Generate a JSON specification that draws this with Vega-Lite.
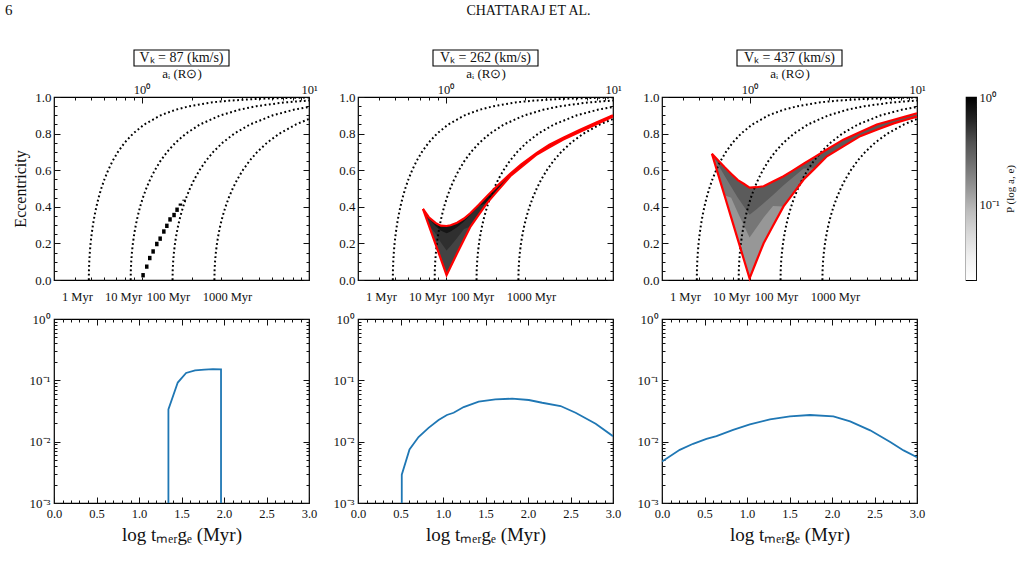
{
  "$schema": "https://vega.github.io/schema/vega-lite/v6.json",
  "background": "white",
  "padding": {"left": 5, "top": 2, "right": 4, "bottom": 4},
  "config": {
    "font": "Liberation Serif",
    "view": {"stroke": "#000", "strokeWidth": 1.2},
    "axis": {"domain": false, "grid": false, "labelFont": "Liberation Serif", "labelColor": "#111", "tickColor": "#111", "tickWidth": 1, "titleFont": "Liberation Serif", "titleFontWeight": "normal", "titleColor": "#111", "labelOverlap": false, "labelFlush": false, "labelBound": false},
    "title": {"font": "Liberation Serif", "fontWeight": "normal", "color": "#111"},
    "text": {"font": "Liberation Serif", "color": "#111"}
  },
  "datasets": {
    "contours": [
      {"t":"1 Myr","log_a":-0.315,"e":0},{"t":"1 Myr","log_a":-0.3144,"e":0.05},{"t":"1 Myr","log_a":-0.3124,"e":0.1},{"t":"1 Myr","log_a":-0.3091,"e":0.15},{"t":"1 Myr","log_a":-0.3045,"e":0.2},{"t":"1 Myr","log_a":-0.2983,"e":0.25},{"t":"1 Myr","log_a":-0.2906,"e":0.3},{"t":"1 Myr","log_a":-0.2812,"e":0.35},{"t":"1 Myr","log_a":-0.2699,"e":0.4},{"t":"1 Myr","log_a":-0.2566,"e":0.45},{"t":"1 Myr","log_a":-0.2407,"e":0.5},{"t":"1 Myr","log_a":-0.2219,"e":0.55},{"t":"1 Myr","log_a":-0.1997,"e":0.6},{"t":"1 Myr","log_a":-0.1731,"e":0.65},{"t":"1 Myr","log_a":-0.141,"e":0.7},{"t":"1 Myr","log_a":-0.1014,"e":0.75},{"t":"1 Myr","log_a":-0.051,"e":0.8},{"t":"1 Myr","log_a":0.0163,"e":0.85},{"t":"1 Myr","log_a":0.1141,"e":0.9},{"t":"1 Myr","log_a":0.2022,"e":0.93},{"t":"1 Myr","log_a":0.2866,"e":0.95},{"t":"1 Myr","log_a":0.4159,"e":0.97},{"t":"1 Myr","log_a":0.5194,"e":0.98},{"t":"1 Myr","log_a":0.6972,"e":0.99},{"t":"1 Myr","log_a":0.8757,"e":0.995},{"t":"1 Myr","log_a":1,"e":0.997},
      {"t":"10 Myr","log_a":-0.065,"e":0},{"t":"10 Myr","log_a":-0.0642,"e":0.05},{"t":"10 Myr","log_a":-0.0618,"e":0.1},{"t":"10 Myr","log_a":-0.0577,"e":0.15},{"t":"10 Myr","log_a":-0.0518,"e":0.2},{"t":"10 Myr","log_a":-0.0442,"e":0.25},{"t":"10 Myr","log_a":-0.0345,"e":0.3},{"t":"10 Myr","log_a":-0.0228,"e":0.35},{"t":"10 Myr","log_a":-0.0087,"e":0.4},{"t":"10 Myr","log_a":0.0081,"e":0.45},{"t":"10 Myr","log_a":0.0279,"e":0.5},{"t":"10 Myr","log_a":0.0514,"e":0.55},{"t":"10 Myr","log_a":0.0792,"e":0.6},{"t":"10 Myr","log_a":0.1123,"e":0.65},{"t":"10 Myr","log_a":0.1525,"e":0.7},{"t":"10 Myr","log_a":0.202,"e":0.75},{"t":"10 Myr","log_a":0.265,"e":0.8},{"t":"10 Myr","log_a":0.3491,"e":0.85},{"t":"10 Myr","log_a":0.4714,"e":0.9},{"t":"10 Myr","log_a":0.5816,"e":0.93},{"t":"10 Myr","log_a":0.6869,"e":0.95},{"t":"10 Myr","log_a":0.8486,"e":0.97},{"t":"10 Myr","log_a":1,"e":0.981},
      {"t":"100 Myr","log_a":0.185,"e":0},{"t":"100 Myr","log_a":0.1859,"e":0.05},{"t":"100 Myr","log_a":0.1886,"e":0.1},{"t":"100 Myr","log_a":0.1932,"e":0.15},{"t":"100 Myr","log_a":0.1997,"e":0.2},{"t":"100 Myr","log_a":0.2083,"e":0.25},{"t":"100 Myr","log_a":0.2191,"e":0.3},{"t":"100 Myr","log_a":0.2322,"e":0.35},{"t":"100 Myr","log_a":0.248,"e":0.4},{"t":"100 Myr","log_a":0.2667,"e":0.45},{"t":"100 Myr","log_a":0.2889,"e":0.5},{"t":"100 Myr","log_a":0.3151,"e":0.55},{"t":"100 Myr","log_a":0.3461,"e":0.6},{"t":"100 Myr","log_a":0.3832,"e":0.65},{"t":"100 Myr","log_a":0.4281,"e":0.7},{"t":"100 Myr","log_a":0.4834,"e":0.75},{"t":"100 Myr","log_a":0.5538,"e":0.8},{"t":"100 Myr","log_a":0.6478,"e":0.85},{"t":"100 Myr","log_a":0.7845,"e":0.9},{"t":"100 Myr","log_a":0.9077,"e":0.93},{"t":"100 Myr","log_a":1,"e":0.946},
      {"t":"1000 Myr","log_a":0.435,"e":0},{"t":"1000 Myr","log_a":0.436,"e":0.05},{"t":"1000 Myr","log_a":0.4388,"e":0.1},{"t":"1000 Myr","log_a":0.4436,"e":0.15},{"t":"1000 Myr","log_a":0.4505,"e":0.2},{"t":"1000 Myr","log_a":0.4595,"e":0.25},{"t":"1000 Myr","log_a":0.4708,"e":0.3},{"t":"1000 Myr","log_a":0.4847,"e":0.35},{"t":"1000 Myr","log_a":0.5013,"e":0.4},{"t":"1000 Myr","log_a":0.521,"e":0.45},{"t":"1000 Myr","log_a":0.5443,"e":0.5},{"t":"1000 Myr","log_a":0.5719,"e":0.55},{"t":"1000 Myr","log_a":0.6046,"e":0.6},{"t":"1000 Myr","log_a":0.6436,"e":0.65},{"t":"1000 Myr","log_a":0.6909,"e":0.7},{"t":"1000 Myr","log_a":0.7491,"e":0.75},{"t":"1000 Myr","log_a":0.8232,"e":0.8},{"t":"1000 Myr","log_a":0.9221,"e":0.85},{"t":"1000 Myr","log_a":1,"e":0.88}
    ],
    "cells_87": [
      {"a_lo":-0.0015,"a_hi":0.0195,"e_lo":0.014,"e_hi":0.038,"p":1},
      {"a_lo":0.0205,"a_hi":0.0415,"e_lo":0.061,"e_hi":0.085,"p":1},
      {"a_lo":0.0385,"a_hi":0.0595,"e_lo":0.108,"e_hi":0.132,"p":1},
      {"a_lo":0.0585,"a_hi":0.0795,"e_lo":0.144,"e_hi":0.168,"p":1},
      {"a_lo":0.0805,"a_hi":0.1015,"e_lo":0.185,"e_hi":0.209,"p":1},
      {"a_lo":0.1005,"a_hi":0.1215,"e_lo":0.214,"e_hi":0.238,"p":1},
      {"a_lo":0.1225,"a_hi":0.1435,"e_lo":0.253,"e_hi":0.277,"p":1},
      {"a_lo":0.1405,"a_hi":0.1615,"e_lo":0.284,"e_hi":0.308,"p":1},
      {"a_lo":0.1595,"a_hi":0.1805,"e_lo":0.319,"e_hi":0.343,"p":1},
      {"a_lo":0.1835,"a_hi":0.2045,"e_lo":0.343,"e_hi":0.367,"p":1},
      {"a_lo":0.2015,"a_hi":0.2225,"e_lo":0.372,"e_hi":0.396,"p":1},
      {"a_lo":0.2215,"a_hi":0.2425,"e_lo":0.406,"e_hi":0.418,"p":1},
      {"a_lo":0.2435,"a_hi":0.2645,"e_lo":0.433,"e_hi":0.439,"p":1}
    ],
    "p262_a": [
      {"log_a":-0.135,"e_lo":0.389,"e_hi":0.389,"p":0.8},{"log_a":-0.1,"e_lo":0.299,"e_hi":0.343,"p":0.8},{"log_a":-0.06,"e_lo":0.196,"e_hi":0.312,"p":0.8},{"log_a":-0.03,"e_lo":0.119,"e_hi":0.297,"p":0.8},{"log_a":0.006,"e_lo":0.027,"e_hi":0.295,"p":0.8},{"log_a":0.03,"e_lo":0.072,"e_hi":0.299,"p":0.8},{"log_a":0.069,"e_lo":0.146,"e_hi":0.313,"p":0.8},{"log_a":0.11,"e_lo":0.221,"e_hi":0.336,"p":0.8},{"log_a":0.149,"e_lo":0.292,"e_hi":0.366,"p":0.8},{"log_a":0.2,"e_lo":0.358,"e_hi":0.413,"p":0.8},{"log_a":0.25,"e_lo":0.423,"e_hi":0.46,"p":0.8},{"log_a":0.3,"e_lo":0.476,"e_hi":0.506,"p":0.8},{"log_a":0.386,"e_lo":0.567,"e_hi":0.58,"p":0.8},{"log_a":0.45,"e_lo":0.615,"e_hi":0.631,"p":0.8},{"log_a":0.545,"e_lo":0.686,"e_hi":0.694,"p":0.8},{"log_a":0.62,"e_lo":0.725,"e_hi":0.739,"p":0.8},{"log_a":0.703,"e_lo":0.768,"e_hi":0.777,"p":0.8},{"log_a":0.8,"e_lo":0.809,"e_hi":0.82,"p":0.8},{"log_a":0.9,"e_lo":0.851,"e_hi":0.86,"p":0.8},{"log_a":1,"e_lo":0.893,"e_hi":0.9,"p":0.8}
    ],
    "p262_b": [
      {"log_a":-0.135,"e_lo":0.389,"e_hi":0.389,"p":0.55},{"log_a":-0.1,"e_lo":0.299,"e_hi":0.336,"p":0.55},{"log_a":-0.06,"e_lo":0.196,"e_hi":0.295,"p":0.55},{"log_a":-0.03,"e_lo":0.119,"e_hi":0.27,"p":0.55},{"log_a":0.006,"e_lo":0.027,"e_hi":0.255,"p":0.55},{"log_a":0.03,"e_lo":0.072,"e_hi":0.265,"p":0.55},{"log_a":0.069,"e_lo":0.146,"e_hi":0.288,"p":0.55},{"log_a":0.11,"e_lo":0.221,"e_hi":0.319,"p":0.55},{"log_a":0.149,"e_lo":0.292,"e_hi":0.355,"p":0.55},{"log_a":0.2,"e_lo":0.358,"e_hi":0.405,"p":0.55},{"log_a":0.25,"e_lo":0.423,"e_hi":0.423,"p":0.55}
    ],
    "p262_c": [
      {"log_a":-0.1,"e_lo":0.299,"e_hi":0.299,"p":0.44},{"log_a":-0.06,"e_lo":0.196,"e_hi":0.254,"p":0.44},{"log_a":-0.03,"e_lo":0.119,"e_hi":0.208,"p":0.44},{"log_a":0.006,"e_lo":0.027,"e_hi":0.161,"p":0.44},{"log_a":0.03,"e_lo":0.072,"e_hi":0.186,"p":0.44},{"log_a":0.069,"e_lo":0.146,"e_hi":0.23,"p":0.44},{"log_a":0.11,"e_lo":0.221,"e_hi":0.279,"p":0.44},{"log_a":0.149,"e_lo":0.292,"e_hi":0.292,"p":0.44}
    ],
    "p437_a": [
      {"log_a":-0.225,"e_lo":0.69,"e_hi":0.69,"p":0.33},{"log_a":-0.19,"e_lo":0.584,"e_hi":0.656,"p":0.33},{"log_a":-0.15,"e_lo":0.463,"e_hi":0.617,"p":0.33},{"log_a":-0.11,"e_lo":0.342,"e_hi":0.581,"p":0.33},{"log_a":-0.07,"e_lo":0.221,"e_hi":0.546,"p":0.33},{"log_a":-0.035,"e_lo":0.115,"e_hi":0.526,"p":0.33},{"log_a":0,"e_lo":0.009,"e_hi":0.505,"p":0.33},{"log_a":0.04,"e_lo":0.101,"e_hi":0.507,"p":0.33},{"log_a":0.084,"e_lo":0.201,"e_hi":0.512,"p":0.33},{"log_a":0.14,"e_lo":0.296,"e_hi":0.538,"p":0.33},{"log_a":0.203,"e_lo":0.402,"e_hi":0.567,"p":0.33},{"log_a":0.26,"e_lo":0.472,"e_hi":0.599,"p":0.33},{"log_a":0.323,"e_lo":0.549,"e_hi":0.635,"p":0.33},{"log_a":0.39,"e_lo":0.61,"e_hi":0.673,"p":0.33},{"log_a":0.462,"e_lo":0.676,"e_hi":0.713,"p":0.33},{"log_a":0.56,"e_lo":0.73,"e_hi":0.767,"p":0.33},{"log_a":0.661,"e_lo":0.786,"e_hi":0.809,"p":0.33},{"log_a":0.76,"e_lo":0.821,"e_hi":0.85,"p":0.33},{"log_a":0.861,"e_lo":0.856,"e_hi":0.876,"p":0.33},{"log_a":0.93,"e_lo":0.874,"e_hi":0.893,"p":0.33},{"log_a":1,"e_lo":0.893,"e_hi":0.911,"p":0.33}
    ],
    "p437_b": [
      {"log_a":-0.225,"e_lo":0.69,"e_hi":0.69,"p":0.22},{"log_a":-0.19,"e_lo":0.584,"e_hi":0.634,"p":0.22},{"log_a":-0.15,"e_lo":0.463,"e_hi":0.571,"p":0.22},{"log_a":-0.11,"e_lo":0.342,"e_hi":0.509,"p":0.22},{"log_a":-0.07,"e_lo":0.221,"e_hi":0.449,"p":0.22},{"log_a":-0.035,"e_lo":0.115,"e_hi":0.403,"p":0.22},{"log_a":0,"e_lo":0.009,"e_hi":0.356,"p":0.22},{"log_a":0.04,"e_lo":0.101,"e_hi":0.385,"p":0.22},{"log_a":0.084,"e_lo":0.201,"e_hi":0.419,"p":0.22},{"log_a":0.14,"e_lo":0.296,"e_hi":0.465,"p":0.22},{"log_a":0.203,"e_lo":0.402,"e_hi":0.518,"p":0.22},{"log_a":0.26,"e_lo":0.472,"e_hi":0.561,"p":0.22},{"log_a":0.323,"e_lo":0.549,"e_hi":0.609,"p":0.22},{"log_a":0.39,"e_lo":0.61,"e_hi":0.61,"p":0.22}
    ],
    "p437_c": [
      {"log_a":-0.15,"e_lo":0.463,"e_hi":0.463,"p":0.14},{"log_a":-0.11,"e_lo":0.342,"e_hi":0.45,"p":0.14},{"log_a":-0.07,"e_lo":0.221,"e_hi":0.367,"p":0.14},{"log_a":-0.035,"e_lo":0.115,"e_hi":0.3,"p":0.14},{"log_a":0,"e_lo":0.009,"e_hi":0.232,"p":0.14},{"log_a":0.04,"e_lo":0.101,"e_hi":0.284,"p":0.14},{"log_a":0.084,"e_lo":0.201,"e_hi":0.341,"p":0.14},{"log_a":0.14,"e_lo":0.296,"e_hi":0.405,"p":0.14},{"log_a":0.203,"e_lo":0.402,"e_hi":0.402,"p":0.14}
    ],
    "dist_87": [
      {"log_t":1.346,"prob":0.00001},{"log_t":1.346,"prob":0.0336},{"log_t":1.456,"prob":0.092},{"log_t":1.554,"prob":0.132},{"log_t":1.66,"prob":0.145},{"log_t":1.77,"prob":0.149},{"log_t":1.87,"prob":0.152},{"log_t":1.965,"prob":0.151},{"log_t":1.965,"prob":0.00001}
    ],
    "dist_262": [
      {"log_t":0.515,"prob":0.00001},{"log_t":0.515,"prob":0.0029},{"log_t":0.606,"prob":0.00745},{"log_t":0.712,"prob":0.0119},{"log_t":0.83,"prob":0.0168},{"log_t":0.948,"prob":0.0225},{"log_t":1.046,"prob":0.0272},{"log_t":1.125,"prob":0.0296},{"log_t":1.243,"prob":0.0367},{"log_t":1.42,"prob":0.0449},{"log_t":1.616,"prob":0.0491},{"log_t":1.813,"prob":0.0502},{"log_t":2.01,"prob":0.0478},{"log_t":2.167,"prob":0.0431},{"log_t":2.383,"prob":0.0381},{"log_t":2.56,"prob":0.0296},{"log_t":2.796,"prob":0.0196},{"log_t":3,"prob":0.0123}
    ],
    "dist_437": [
      {"log_t":0,"prob":0.00475},{"log_t":0.209,"prob":0.00736},{"log_t":0.366,"prob":0.00923},{"log_t":0.523,"prob":0.0111},{"log_t":0.641,"prob":0.0123},{"log_t":0.837,"prob":0.0156},{"log_t":1.034,"prob":0.0191},{"log_t":1.27,"prob":0.0231},{"log_t":1.505,"prob":0.0259},{"log_t":1.741,"prob":0.0272},{"log_t":2.016,"prob":0.0259},{"log_t":2.213,"prob":0.0214},{"log_t":2.449,"prob":0.0153},{"log_t":2.685,"prob":0.00984},{"log_t":2.842,"prob":0.0072},{"log_t":3,"prob":0.00559}
    ]
  },
  "columns": 5,
  "spacing": {"row": -3, "column": 14},
  "concat": [
    {
      "width": 255, "height": 16, "view": {"stroke": null},
      "title": {"text": "6", "anchor": "start", "dx": -49, "offset": 30, "fontSize": 15},
      "data": {"values": [{}]},
      "layer": [
        {"mark": {"type": "point", "shape": "M-1,-0.168L1,-0.168L1,0.168L-1,0.168Z", "size": 9025, "filled": false, "stroke": "#000", "strokeWidth": 1.1, "opacity": 1}, "encoding": {}},
        {"mark": {"type": "text", "text": "Vₖ = 87 (km/s)", "fontSize": 14, "baseline": "middle", "align": "center"}, "encoding": {}}
      ]
    },
    {
      "width": 255, "height": 16, "view": {"stroke": null},
      "title": {"text": "CHATTARAJ ET AL.", "anchor": "middle", "dx": 43, "offset": 30, "fontSize": 14},
      "data": {"values": [{}]},
      "layer": [
        {"mark": {"type": "point", "shape": "M-1,-0.152L1,-0.152L1,0.152L-1,0.152Z", "size": 11025, "filled": false, "stroke": "#000", "strokeWidth": 1.1, "opacity": 1}, "encoding": {}},
        {"mark": {"type": "text", "text": "Vₖ = 262 (km/s)", "fontSize": 14, "baseline": "middle", "align": "center"}, "encoding": {}}
      ]
    },
    {
      "width": 255, "height": 16, "view": {"stroke": null},
      "data": {"values": [{}]},
      "layer": [
        {"mark": {"type": "point", "shape": "M-1,-0.152L1,-0.152L1,0.152L-1,0.152Z", "size": 11025, "filled": false, "stroke": "#000", "strokeWidth": 1.1, "opacity": 1}, "encoding": {}},
        {"mark": {"type": "text", "text": "Vₖ = 437 (km/s)", "fontSize": 14, "baseline": "middle", "align": "center"}, "encoding": {}}
      ]
    },
    {"width": 11, "height": 16, "view": {"stroke": null}, "data": {"values": []}, "mark": "point"},
    {"width": 10, "height": 16, "view": {"stroke": null}, "data": {"values": []}, "mark": "point"},

    {
      "width": 255, "height": 183,
      "layer": [
        {
          "data": {"name": "cells_87"},
          "mark": {"type": "rect"},
          "encoding": {
            "x": {"field": "a_lo", "type": "quantitative", "scale": {"domain": [-0.523, 1], "nice": false, "zero": false},
                  "axis": {"orient": "bottom", "title": null, "values": [-0.398,-0.301,-0.222,-0.155,-0.097,-0.046,0,0.301,0.477,0.602,0.699,0.778,0.845,0.903,0.954,1,-0.386,-0.111,0.158,0.51], "labelExpr": "datum.value==-0.386?'1 Myr':datum.value==-0.111?'10 Myr':datum.value==0.158?'100 Myr':datum.value==0.51?'1000 Myr':''", "tickSize": {"condition": {"test": "indexof([-0.386,-0.111,0.158,0.51],datum.value)>=0", "value": 0}, "value": -3}, "labelPadding": 10, "labelFontSize": 12.5}},
            "x2": {"field": "a_hi"},
            "y": {"field": "e_lo", "type": "quantitative", "scale": {"domain": [0, 1], "nice": false},
                  "axis": {"orient": "left", "title": "Eccentricity", "titleFontSize": 16, "titlePadding": 6, "values": [0,0.05,0.1,0.15,0.2,0.25,0.3,0.35,0.4,0.45,0.5,0.55,0.6,0.65,0.7,0.75,0.8,0.85,0.9,0.95,1], "labelExpr": "abs(datum.value*5-round(datum.value*5))<0.001?format(datum.value,'.1f'):''", "tickSize": {"condition": {"test": "abs(datum.value*5-round(datum.value*5))<0.001", "value": -6}, "value": -3}, "labelPadding": 9, "labelFontSize": 13}},
            "y2": {"field": "e_hi"},
            "color": {"field": "p", "type": "quantitative", "scale": {"type": "log", "domain": [0.02, 1], "range": ["#ffffff","#f0f0f0","#d9d9d9","#bdbdbd","#969696","#737373","#525252","#252525","#000000"]}, "legend": null}
          }
        },
        {
          "data": {"name": "contours"},
          "mark": {"type": "line", "color": "#000", "strokeWidth": 2, "strokeDash": [1.8, 2.6], "clip": true},
          "encoding": {
            "x": {"field": "log_a", "type": "quantitative", "scale": {"domain": [-0.523, 1], "nice": false, "zero": false},
                  "axis": {"orient": "top", "title": "aᵢ (R⊙)", "titleFontSize": 13, "titlePadding": 0, "values": [-0.398,-0.301,-0.222,-0.155,-0.097,-0.046,0,0.301,0.477,0.602,0.699,0.778,0.845,0.903,0.954,1], "labelExpr": "datum.value==0?'10⁰':datum.value==1?'10¹':''", "tickSize": {"condition": {"test": "datum.value==0||datum.value==1", "value": -6}, "value": -3}, "labelPadding": 7, "labelFontSize": 12.5}},
            "y": {"field": "e", "type": "quantitative", "scale": {"domain": [0, 1], "nice": false},
                  "axis": {"orient": "right", "title": null, "labels": false, "values": [0,0.05,0.1,0.15,0.2,0.25,0.3,0.35,0.4,0.45,0.5,0.55,0.6,0.65,0.7,0.75,0.8,0.85,0.9,0.95,1], "tickSize": {"condition": {"test": "abs(datum.value*5-round(datum.value*5))<0.001", "value": -6}, "value": -3}}},
            "detail": {"field": "t", "type": "nominal"}
          }
        }
      ],
      "resolve": {"axis": {"x": "independent", "y": "independent"}}
    },

    {
      "width": 255, "height": 183,
      "layer": [
        {
          "data": {"name": "p262_a"},
          "mark": {"type": "area"},
          "encoding": {
            "x": {"field": "log_a", "type": "quantitative", "scale": {"domain": [-0.523, 1], "nice": false, "zero": false},
                  "axis": {"orient": "bottom", "title": null, "values": [-0.398,-0.301,-0.222,-0.155,-0.097,-0.046,0,0.301,0.477,0.602,0.699,0.778,0.845,0.903,0.954,1,-0.386,-0.111,0.158,0.51], "labelExpr": "datum.value==-0.386?'1 Myr':datum.value==-0.111?'10 Myr':datum.value==0.158?'100 Myr':datum.value==0.51?'1000 Myr':''", "tickSize": {"condition": {"test": "indexof([-0.386,-0.111,0.158,0.51],datum.value)>=0", "value": 0}, "value": -3}, "labelPadding": 10, "labelFontSize": 12.5}},
            "y": {"field": "e_hi", "type": "quantitative", "stack": null, "scale": {"domain": [0, 1], "nice": false},
                  "axis": {"orient": "left", "title": null, "values": [0,0.05,0.1,0.15,0.2,0.25,0.3,0.35,0.4,0.45,0.5,0.55,0.6,0.65,0.7,0.75,0.8,0.85,0.9,0.95,1], "labelExpr": "abs(datum.value*5-round(datum.value*5))<0.001?format(datum.value,'.1f'):''", "tickSize": {"condition": {"test": "abs(datum.value*5-round(datum.value*5))<0.001", "value": -6}, "value": -3}, "labelPadding": 9, "labelFontSize": 13}},
            "y2": {"field": "e_lo"},
            "color": {"field": "p", "type": "quantitative", "scale": {"type": "log", "domain": [0.02, 1], "range": ["#ffffff","#f0f0f0","#d9d9d9","#bdbdbd","#969696","#737373","#525252","#252525","#000000"]}, "legend": null}
          }
        },
        {
          "data": {"name": "p262_b"},
          "mark": {"type": "area"},
          "encoding": {
            "x": {"field": "log_a", "type": "quantitative", "scale": {"domain": [-0.523, 1], "nice": false, "zero": false}, "axis": null},
            "y": {"field": "e_hi", "type": "quantitative", "stack": null, "scale": {"domain": [0, 1], "nice": false}, "axis": null},
            "y2": {"field": "e_lo"},
            "color": {"field": "p", "type": "quantitative", "scale": {"type": "log", "domain": [0.02, 1], "range": ["#ffffff","#f0f0f0","#d9d9d9","#bdbdbd","#969696","#737373","#525252","#252525","#000000"]}, "legend": null}
          }
        },
        {
          "data": {"name": "p262_c"},
          "mark": {"type": "area"},
          "encoding": {
            "x": {"field": "log_a", "type": "quantitative", "scale": {"domain": [-0.523, 1], "nice": false, "zero": false}, "axis": null},
            "y": {"field": "e_hi", "type": "quantitative", "stack": null, "scale": {"domain": [0, 1], "nice": false}, "axis": null},
            "y2": {"field": "e_lo"},
            "color": {"field": "p", "type": "quantitative", "scale": {"type": "log", "domain": [0.02, 1], "range": ["#ffffff","#f0f0f0","#d9d9d9","#bdbdbd","#969696","#737373","#525252","#252525","#000000"]}, "legend": null}
          }
        },
        {
          "data": {"name": "contours"},
          "mark": {"type": "line", "color": "#000", "strokeWidth": 2, "strokeDash": [1.8, 2.6], "clip": true},
          "encoding": {
            "x": {"field": "log_a", "type": "quantitative", "scale": {"domain": [-0.523, 1], "nice": false, "zero": false},
                  "axis": {"orient": "top", "title": "aᵢ (R⊙)", "titleFontSize": 13, "titlePadding": 0, "values": [-0.398,-0.301,-0.222,-0.155,-0.097,-0.046,0,0.301,0.477,0.602,0.699,0.778,0.845,0.903,0.954,1], "labelExpr": "datum.value==0?'10⁰':datum.value==1?'10¹':''", "tickSize": {"condition": {"test": "datum.value==0||datum.value==1", "value": -6}, "value": -3}, "labelPadding": 7, "labelFontSize": 12.5}},
            "y": {"field": "e", "type": "quantitative", "scale": {"domain": [0, 1], "nice": false},
                  "axis": {"orient": "right", "title": null, "labels": false, "values": [0,0.05,0.1,0.15,0.2,0.25,0.3,0.35,0.4,0.45,0.5,0.55,0.6,0.65,0.7,0.75,0.8,0.85,0.9,0.95,1], "tickSize": {"condition": {"test": "abs(datum.value*5-round(datum.value*5))<0.001", "value": -6}, "value": -3}}},
            "detail": {"field": "t", "type": "nominal"}
          }
        },
        {
          "data": {"name": "p262_a"},
          "mark": {"type": "line", "color": "#ff0000", "strokeWidth": 2.2},
          "encoding": {
            "x": {"field": "log_a", "type": "quantitative", "scale": {"domain": [-0.523, 1], "nice": false, "zero": false}, "axis": null},
            "y": {"field": "e_hi", "type": "quantitative", "scale": {"domain": [0, 1], "nice": false}, "axis": null}
          }
        },
        {
          "data": {"name": "p262_a"},
          "mark": {"type": "line", "color": "#ff0000", "strokeWidth": 2.2},
          "encoding": {
            "x": {"field": "log_a", "type": "quantitative", "scale": {"domain": [-0.523, 1], "nice": false, "zero": false}, "axis": null},
            "y": {"field": "e_lo", "type": "quantitative", "scale": {"domain": [0, 1], "nice": false}, "axis": null}
          }
        }
      ],
      "resolve": {"axis": {"x": "independent", "y": "independent"}}
    },

    {
      "width": 255, "height": 183,
      "layer": [
        {
          "data": {"name": "p437_a"},
          "mark": {"type": "area"},
          "encoding": {
            "x": {"field": "log_a", "type": "quantitative", "scale": {"domain": [-0.523, 1], "nice": false, "zero": false},
                  "axis": {"orient": "bottom", "title": null, "values": [-0.398,-0.301,-0.222,-0.155,-0.097,-0.046,0,0.301,0.477,0.602,0.699,0.778,0.845,0.903,0.954,1,-0.386,-0.111,0.158,0.51], "labelExpr": "datum.value==-0.386?'1 Myr':datum.value==-0.111?'10 Myr':datum.value==0.158?'100 Myr':datum.value==0.51?'1000 Myr':''", "tickSize": {"condition": {"test": "indexof([-0.386,-0.111,0.158,0.51],datum.value)>=0", "value": 0}, "value": -3}, "labelPadding": 10, "labelFontSize": 12.5}},
            "y": {"field": "e_hi", "type": "quantitative", "stack": null, "scale": {"domain": [0, 1], "nice": false},
                  "axis": {"orient": "left", "title": null, "values": [0,0.05,0.1,0.15,0.2,0.25,0.3,0.35,0.4,0.45,0.5,0.55,0.6,0.65,0.7,0.75,0.8,0.85,0.9,0.95,1], "labelExpr": "abs(datum.value*5-round(datum.value*5))<0.001?format(datum.value,'.1f'):''", "tickSize": {"condition": {"test": "abs(datum.value*5-round(datum.value*5))<0.001", "value": -6}, "value": -3}, "labelPadding": 9, "labelFontSize": 13}},
            "y2": {"field": "e_lo"},
            "color": {"field": "p", "type": "quantitative", "scale": {"type": "log", "domain": [0.02, 1], "range": ["#ffffff","#f0f0f0","#d9d9d9","#bdbdbd","#969696","#737373","#525252","#252525","#000000"]}, "legend": null}
          }
        },
        {
          "data": {"name": "p437_b"},
          "mark": {"type": "area"},
          "encoding": {
            "x": {"field": "log_a", "type": "quantitative", "scale": {"domain": [-0.523, 1], "nice": false, "zero": false}, "axis": null},
            "y": {"field": "e_hi", "type": "quantitative", "stack": null, "scale": {"domain": [0, 1], "nice": false}, "axis": null},
            "y2": {"field": "e_lo"},
            "color": {"field": "p", "type": "quantitative", "scale": {"type": "log", "domain": [0.02, 1], "range": ["#ffffff","#f0f0f0","#d9d9d9","#bdbdbd","#969696","#737373","#525252","#252525","#000000"]}, "legend": null}
          }
        },
        {
          "data": {"name": "p437_c"},
          "mark": {"type": "area"},
          "encoding": {
            "x": {"field": "log_a", "type": "quantitative", "scale": {"domain": [-0.523, 1], "nice": false, "zero": false}, "axis": null},
            "y": {"field": "e_hi", "type": "quantitative", "stack": null, "scale": {"domain": [0, 1], "nice": false}, "axis": null},
            "y2": {"field": "e_lo"},
            "color": {"field": "p", "type": "quantitative", "scale": {"type": "log", "domain": [0.02, 1], "range": ["#ffffff","#f0f0f0","#d9d9d9","#bdbdbd","#969696","#737373","#525252","#252525","#000000"]}, "legend": null}
          }
        },
        {
          "data": {"name": "contours"},
          "mark": {"type": "line", "color": "#000", "strokeWidth": 2, "strokeDash": [1.8, 2.6], "clip": true},
          "encoding": {
            "x": {"field": "log_a", "type": "quantitative", "scale": {"domain": [-0.523, 1], "nice": false, "zero": false},
                  "axis": {"orient": "top", "title": "aᵢ (R⊙)", "titleFontSize": 13, "titlePadding": 0, "values": [-0.398,-0.301,-0.222,-0.155,-0.097,-0.046,0,0.301,0.477,0.602,0.699,0.778,0.845,0.903,0.954,1], "labelExpr": "datum.value==0?'10⁰':datum.value==1?'10¹':''", "tickSize": {"condition": {"test": "datum.value==0||datum.value==1", "value": -6}, "value": -3}, "labelPadding": 7, "labelFontSize": 12.5}},
            "y": {"field": "e", "type": "quantitative", "scale": {"domain": [0, 1], "nice": false},
                  "axis": {"orient": "right", "title": null, "labels": false, "values": [0,0.05,0.1,0.15,0.2,0.25,0.3,0.35,0.4,0.45,0.5,0.55,0.6,0.65,0.7,0.75,0.8,0.85,0.9,0.95,1], "tickSize": {"condition": {"test": "abs(datum.value*5-round(datum.value*5))<0.001", "value": -6}, "value": -3}}},
            "detail": {"field": "t", "type": "nominal"}
          }
        },
        {
          "data": {"name": "p437_a"},
          "mark": {"type": "line", "color": "#ff0000", "strokeWidth": 2.2},
          "encoding": {
            "x": {"field": "log_a", "type": "quantitative", "scale": {"domain": [-0.523, 1], "nice": false, "zero": false}, "axis": null},
            "y": {"field": "e_hi", "type": "quantitative", "scale": {"domain": [0, 1], "nice": false}, "axis": null}
          }
        },
        {
          "data": {"name": "p437_a"},
          "mark": {"type": "line", "color": "#ff0000", "strokeWidth": 2.2},
          "encoding": {
            "x": {"field": "log_a", "type": "quantitative", "scale": {"domain": [-0.523, 1], "nice": false, "zero": false}, "axis": null},
            "y": {"field": "e_lo", "type": "quantitative", "scale": {"domain": [0, 1], "nice": false}, "axis": null}
          }
        }
      ],
      "resolve": {"axis": {"x": "independent", "y": "independent"}}
    },

    {"width": 11, "height": 183, "view": {"stroke": null}, "data": {"values": []}, "mark": "point"},

    {
      "width": 10, "height": 183,
      "data": {"values": [{"lo": 0.02, "hi": 1}]},
      "mark": {"type": "rect", "color": {"gradient": "linear", "x1": 0, "y1": 1, "x2": 0, "y2": 0, "stops": [{"offset": 0, "color": "#ffffff"}, {"offset": 0.125, "color": "#f0f0f0"}, {"offset": 0.25, "color": "#d9d9d9"}, {"offset": 0.375, "color": "#bdbdbd"}, {"offset": 0.5, "color": "#969696"}, {"offset": 0.625, "color": "#737373"}, {"offset": 0.75, "color": "#525252"}, {"offset": 0.875, "color": "#252525"}, {"offset": 1, "color": "#000000"}]}},
      "encoding": {
        "y": {"field": "lo", "type": "quantitative", "scale": {"type": "log", "domain": [0.02, 1], "nice": false},
              "axis": {"orient": "right", "title": "P (log a, e)", "titleAngle": 270, "titleFontSize": 11, "titlePadding": 16, "values": [0.02,0.03,0.04,0.05,0.06,0.07,0.08,0.09,0.1,0.2,0.3,0.4,0.5,0.6,0.7,0.8,0.9,1], "labelExpr": "datum.value==1?'10⁰':datum.value==0.1?'10⁻¹':''", "tickSize": {"condition": {"test": "datum.value==0.1||datum.value==1", "value": -5}, "value": -3}, "labelPadding": 8, "labelFontSize": 12.5}},
        "y2": {"field": "hi"}
      }
    },

    {
      "width": 255, "height": 184,
      "data": {"name": "dist_87"},
      "layer": [
        {
          "mark": {"type": "line", "color": "#1f77b4", "strokeWidth": 1.8, "clip": true},
          "encoding": {
            "x": {"field": "log_t", "type": "quantitative", "scale": {"domain": [0, 3], "nice": false, "zero": false},
                  "axis": {"orient": "bottom", "title": "log tₘₑᵣgₑ (Myr)", "titleFontSize": 19, "titlePadding": 3, "values": [0,0.1,0.2,0.3,0.4,0.5,0.6,0.7,0.8,0.9,1,1.1,1.2,1.3,1.4,1.5,1.6,1.7,1.8,1.9,2,2.1,2.2,2.3,2.4,2.5,2.6,2.7,2.8,2.9,3], "labelExpr": "abs(datum.value*2-round(datum.value*2))<0.001?format(datum.value,'.1f'):''", "tickSize": {"condition": {"test": "abs(datum.value*2-round(datum.value*2))<0.001", "value": -6}, "value": -3}, "labelPadding": 10, "labelFontSize": 12.5}},
            "y": {"field": "prob", "type": "quantitative", "scale": {"type": "log", "domain": [0.001, 1], "nice": false},
                  "axis": {"orient": "left", "title": null, "values": [0.001,0.002,0.003,0.004,0.005,0.006,0.007,0.008,0.009,0.01,0.02,0.03,0.04,0.05,0.06,0.07,0.08,0.09,0.1,0.2,0.3,0.4,0.5,0.6,0.7,0.8,0.9,1], "labelExpr": "datum.value==1?'10⁰':datum.value==0.1?'10⁻¹':datum.value==0.01?'10⁻²':datum.value==0.001?'10⁻³':''", "tickSize": {"condition": {"test": "indexof([0.001,0.01,0.1,1],datum.value)>=0", "value": -6}, "value": -3}, "labelPadding": 10, "labelFontSize": 13}}
          }
        },
        {
          "mark": {"type": "line", "strokeOpacity": 0, "clip": true},
          "encoding": {
            "x": {"field": "log_t", "type": "quantitative", "scale": {"domain": [0, 3], "nice": false, "zero": false},
                  "axis": {"orient": "top", "title": " ", "titleFontSize": 14, "titlePadding": 2, "labels": false, "values": [0,0.1,0.2,0.3,0.4,0.5,0.6,0.7,0.8,0.9,1,1.1,1.2,1.3,1.4,1.5,1.6,1.7,1.8,1.9,2,2.1,2.2,2.3,2.4,2.5,2.6,2.7,2.8,2.9,3], "tickSize": {"condition": {"test": "abs(datum.value*2-round(datum.value*2))<0.001", "value": -6}, "value": -3}}},
            "y": {"field": "prob", "type": "quantitative", "scale": {"type": "log", "domain": [0.001, 1], "nice": false},
                  "axis": {"orient": "right", "title": null, "labels": false, "values": [0.001,0.002,0.003,0.004,0.005,0.006,0.007,0.008,0.009,0.01,0.02,0.03,0.04,0.05,0.06,0.07,0.08,0.09,0.1,0.2,0.3,0.4,0.5,0.6,0.7,0.8,0.9,1], "tickSize": {"condition": {"test": "indexof([0.001,0.01,0.1,1],datum.value)>=0", "value": -6}, "value": -3}}}
          }
        }
      ],
      "resolve": {"axis": {"x": "independent", "y": "independent"}}
    },

    {
      "width": 255, "height": 184,
      "data": {"name": "dist_262"},
      "layer": [
        {
          "mark": {"type": "line", "color": "#1f77b4", "strokeWidth": 1.8, "clip": true},
          "encoding": {
            "x": {"field": "log_t", "type": "quantitative", "scale": {"domain": [0, 3], "nice": false, "zero": false},
                  "axis": {"orient": "bottom", "title": "log tₘₑᵣgₑ (Myr)", "titleFontSize": 19, "titlePadding": 3, "values": [0,0.1,0.2,0.3,0.4,0.5,0.6,0.7,0.8,0.9,1,1.1,1.2,1.3,1.4,1.5,1.6,1.7,1.8,1.9,2,2.1,2.2,2.3,2.4,2.5,2.6,2.7,2.8,2.9,3], "labelExpr": "abs(datum.value*2-round(datum.value*2))<0.001?format(datum.value,'.1f'):''", "tickSize": {"condition": {"test": "abs(datum.value*2-round(datum.value*2))<0.001", "value": -6}, "value": -3}, "labelPadding": 10, "labelFontSize": 12.5}},
            "y": {"field": "prob", "type": "quantitative", "scale": {"type": "log", "domain": [0.001, 1], "nice": false},
                  "axis": {"orient": "left", "title": null, "values": [0.001,0.002,0.003,0.004,0.005,0.006,0.007,0.008,0.009,0.01,0.02,0.03,0.04,0.05,0.06,0.07,0.08,0.09,0.1,0.2,0.3,0.4,0.5,0.6,0.7,0.8,0.9,1], "labelExpr": "datum.value==1?'10⁰':datum.value==0.1?'10⁻¹':datum.value==0.01?'10⁻²':datum.value==0.001?'10⁻³':''", "tickSize": {"condition": {"test": "indexof([0.001,0.01,0.1,1],datum.value)>=0", "value": -6}, "value": -3}, "labelPadding": 10, "labelFontSize": 13}}
          }
        },
        {
          "mark": {"type": "line", "strokeOpacity": 0, "clip": true},
          "encoding": {
            "x": {"field": "log_t", "type": "quantitative", "scale": {"domain": [0, 3], "nice": false, "zero": false},
                  "axis": {"orient": "top", "title": " ", "titleFontSize": 14, "titlePadding": 2, "labels": false, "values": [0,0.1,0.2,0.3,0.4,0.5,0.6,0.7,0.8,0.9,1,1.1,1.2,1.3,1.4,1.5,1.6,1.7,1.8,1.9,2,2.1,2.2,2.3,2.4,2.5,2.6,2.7,2.8,2.9,3], "tickSize": {"condition": {"test": "abs(datum.value*2-round(datum.value*2))<0.001", "value": -6}, "value": -3}}},
            "y": {"field": "prob", "type": "quantitative", "scale": {"type": "log", "domain": [0.001, 1], "nice": false},
                  "axis": {"orient": "right", "title": null, "labels": false, "values": [0.001,0.002,0.003,0.004,0.005,0.006,0.007,0.008,0.009,0.01,0.02,0.03,0.04,0.05,0.06,0.07,0.08,0.09,0.1,0.2,0.3,0.4,0.5,0.6,0.7,0.8,0.9,1], "tickSize": {"condition": {"test": "indexof([0.001,0.01,0.1,1],datum.value)>=0", "value": -6}, "value": -3}}}
          }
        }
      ],
      "resolve": {"axis": {"x": "independent", "y": "independent"}}
    },

    {
      "width": 255, "height": 184,
      "data": {"name": "dist_437"},
      "layer": [
        {
          "mark": {"type": "line", "color": "#1f77b4", "strokeWidth": 1.8, "clip": true},
          "encoding": {
            "x": {"field": "log_t", "type": "quantitative", "scale": {"domain": [0, 3], "nice": false, "zero": false},
                  "axis": {"orient": "bottom", "title": "log tₘₑᵣgₑ (Myr)", "titleFontSize": 19, "titlePadding": 3, "values": [0,0.1,0.2,0.3,0.4,0.5,0.6,0.7,0.8,0.9,1,1.1,1.2,1.3,1.4,1.5,1.6,1.7,1.8,1.9,2,2.1,2.2,2.3,2.4,2.5,2.6,2.7,2.8,2.9,3], "labelExpr": "abs(datum.value*2-round(datum.value*2))<0.001?format(datum.value,'.1f'):''", "tickSize": {"condition": {"test": "abs(datum.value*2-round(datum.value*2))<0.001", "value": -6}, "value": -3}, "labelPadding": 10, "labelFontSize": 12.5}},
            "y": {"field": "prob", "type": "quantitative", "scale": {"type": "log", "domain": [0.001, 1], "nice": false},
                  "axis": {"orient": "left", "title": null, "values": [0.001,0.002,0.003,0.004,0.005,0.006,0.007,0.008,0.009,0.01,0.02,0.03,0.04,0.05,0.06,0.07,0.08,0.09,0.1,0.2,0.3,0.4,0.5,0.6,0.7,0.8,0.9,1], "labelExpr": "datum.value==1?'10⁰':datum.value==0.1?'10⁻¹':datum.value==0.01?'10⁻²':datum.value==0.001?'10⁻³':''", "tickSize": {"condition": {"test": "indexof([0.001,0.01,0.1,1],datum.value)>=0", "value": -6}, "value": -3}, "labelPadding": 10, "labelFontSize": 13}}
          }
        },
        {
          "mark": {"type": "line", "strokeOpacity": 0, "clip": true},
          "encoding": {
            "x": {"field": "log_t", "type": "quantitative", "scale": {"domain": [0, 3], "nice": false, "zero": false},
                  "axis": {"orient": "top", "title": " ", "titleFontSize": 14, "titlePadding": 2, "labels": false, "values": [0,0.1,0.2,0.3,0.4,0.5,0.6,0.7,0.8,0.9,1,1.1,1.2,1.3,1.4,1.5,1.6,1.7,1.8,1.9,2,2.1,2.2,2.3,2.4,2.5,2.6,2.7,2.8,2.9,3], "tickSize": {"condition": {"test": "abs(datum.value*2-round(datum.value*2))<0.001", "value": -6}, "value": -3}}},
            "y": {"field": "prob", "type": "quantitative", "scale": {"type": "log", "domain": [0.001, 1], "nice": false},
                  "axis": {"orient": "right", "title": null, "labels": false, "values": [0.001,0.002,0.003,0.004,0.005,0.006,0.007,0.008,0.009,0.01,0.02,0.03,0.04,0.05,0.06,0.07,0.08,0.09,0.1,0.2,0.3,0.4,0.5,0.6,0.7,0.8,0.9,1], "tickSize": {"condition": {"test": "indexof([0.001,0.01,0.1,1],datum.value)>=0", "value": -6}, "value": -3}}}
          }
        }
      ],
      "resolve": {"axis": {"x": "independent", "y": "independent"}}
    }
  ]
}
